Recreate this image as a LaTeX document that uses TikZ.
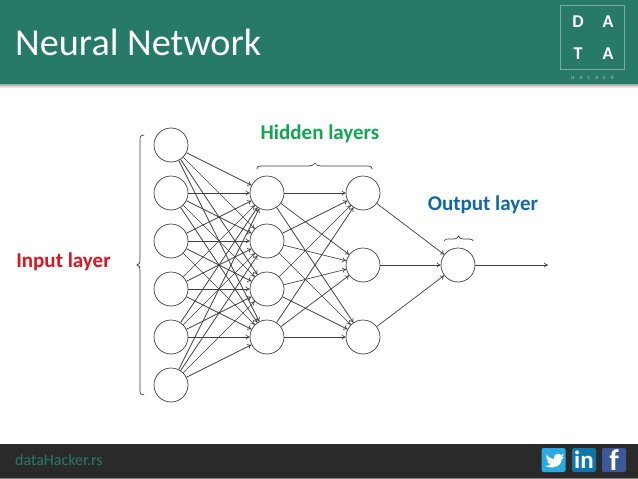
\documentclass[tikz,border=0pt]{standalone}
\usepackage{fontspec}
\setmainfont{Carlito}
\usetikzlibrary{arrows.meta}
\definecolor{hdr}{HTML}{277A68}
\definecolor{foot}{HTML}{2A2A2A}
\definecolor{ln}{HTML}{404040}
\definecolor{hid}{HTML}{11A552}
\definecolor{outc}{HTML}{1068A8}
\definecolor{inc}{HTML}{E0141C}
\definecolor{twc}{HTML}{27ABE2}
\definecolor{lic}{HTML}{0E76A8}
\definecolor{fbc}{HTML}{3B5998}
\tikzset{
  neuron/.style={circle,draw=ln,line width=0.7pt,minimum size=34pt,inner sep=0pt,fill=white},
  link/.style={draw=ln,line width=0.7pt,-{To[length=4pt,width=5pt]}},
  bracegray/.style={draw=ln,line width=0.7pt,line cap=round},
  lab/.style={font=\bfseries\fontsize{21}{24}\selectfont,inner sep=0pt},
  logotxt/.style={font=\bfseries\fontsize{18}{18}\selectfont,text=white,inner sep=0pt},
  icon/.style={rounded corners=2pt,minimum width=24pt,minimum height=24pt,inner sep=0pt,text=white},
}
\begin{document}
\begin{tikzpicture}[x=1pt,y=-1pt]
\useasboundingbox (0,0) rectangle (638,479);
\fill[white] (0,0) rectangle (638,479);
% header
\shade[top color=black!35,bottom color=white] (0,84) rectangle (638,88);
\fill[hdr] (0,0) rectangle (638,84);
\node[anchor=west,text=white,inner sep=0pt,font=\fontsize{38.2}{40}\selectfont] (title) at (15,42) {Neural Network};
% logo
\node[draw=white!40!hdr,line width=0.5pt,minimum size=64pt,inner sep=0pt] (logo) at (592.5,37) {};
\node[logotxt] (l1) at (578,22) {D};
\node[logotxt] (l2) at (608,22) {A};
\node[logotxt] (l3) at (578,54) {T};
\node[logotxt] (l4) at (608,54) {A};
\node[text=white!65!hdr,inner sep=0pt,font=\fontsize{5}{5}\selectfont] (l5) at (592.5,78) {H\hspace{5.2pt}A\hspace{5.2pt}C\hspace{5.2pt}K\hspace{5.2pt}E\hspace{5.2pt}R};
% footer
\fill[foot] (0,444) rectangle (638,478);
\fill[black!50] (0,478) rectangle (638,479);
\node[anchor=west,text=hdr,inner sep=0pt,font=\fontsize{16}{18}\selectfont] (site) at (15,460) {dataHacker.rs};
\node[icon,fill=twc] (tw) at (553.5,460) {};
\fill[white] (546,454) .. controls (549,458) and (552,459) .. (554,459) .. controls (553,454) and (559,452) .. (561,455) -- (564,454) -- (562,457) -- (564,457) -- (562,459) .. controls (562,465) and (554,470) .. (545,466) .. controls (548,466) and (550,465) .. (551,464) .. controls (549,464) and (548,463) .. (547,461) -- (549,461) .. controls (547,460) and (546,458) .. (546,456) -- (548,457) .. controls (547,456) and (546,455) .. (546,454) -- cycle;
\node[icon,fill=lic,font=\bfseries\fontsize{25}{25}\selectfont] (li) at (584,460) {in};
\node[icon,fill=fbc,font=\bfseries\fontsize{30}{30}\selectfont,anchor=center] (fb) at (614,460) {\raisebox{-3pt}{f}};
% labels
\node[lab,text=hid] (hl) at (320,134) {Hidden layers};
\node[lab,text=outc] (ol) at (483,205) {Output layer};
\node[lab,text=inc] (il) at (63.5,262) {Input layer};
% braces
\draw[bracegray] (144,135) .. controls (141,135) and (140,136) .. (140,140) -- (140,259) .. controls (140,263) and (139,265) .. (137,265) .. controls (139,265) and (140,267) .. (140,271) -- (140,390) .. controls (140,394) and (141,395) .. (144,395);
\draw[bracegray] (257,169) .. controls (257,167) and (258,166) .. (261,166) -- (309,166) .. controls (312,166) and (314,165) .. (315,163) .. controls (316,165) and (318,166) .. (321,166) -- (368,166) .. controls (371,166) and (372,167) .. (372,169);
\draw[bracegray] (444,241) .. controls (445,239) and (446,239) .. (449,239) -- (454,239) .. controls (456,239) and (458,238) .. (458.5,236) .. controls (459,238) and (461,239) .. (463,239) -- (469,239) .. controls (472,239) and (473,240) .. (473,241);
% neurons
\foreach \i/\y in {1/145,2/193,3/241,4/289,5/337,6/385} \node[neuron] (a\i) at (171,\y) {};
\foreach \i/\y in {1/193,2/241,3/289,4/337} \node[neuron] (b\i) at (267,\y) {};
\foreach \i/\y in {1/193,2/265,3/337} \node[neuron] (c\i) at (363,\y) {};
\node[neuron] (d) at (458,265) {};
\coordinate (end) at (548,265);
% connectors
\foreach \i in {1,...,6} \foreach \j in {1,...,4} \draw[link] (a\i) -- (b\j);
\foreach \i in {1,...,4} \foreach \j in {1,...,3} \draw[link] (b\i) -- (c\j);
\foreach \i in {1,...,3} \draw[link] (c\i) -- (d);
\draw[link] (d) -- (end);
\end{tikzpicture}
\end{document}
